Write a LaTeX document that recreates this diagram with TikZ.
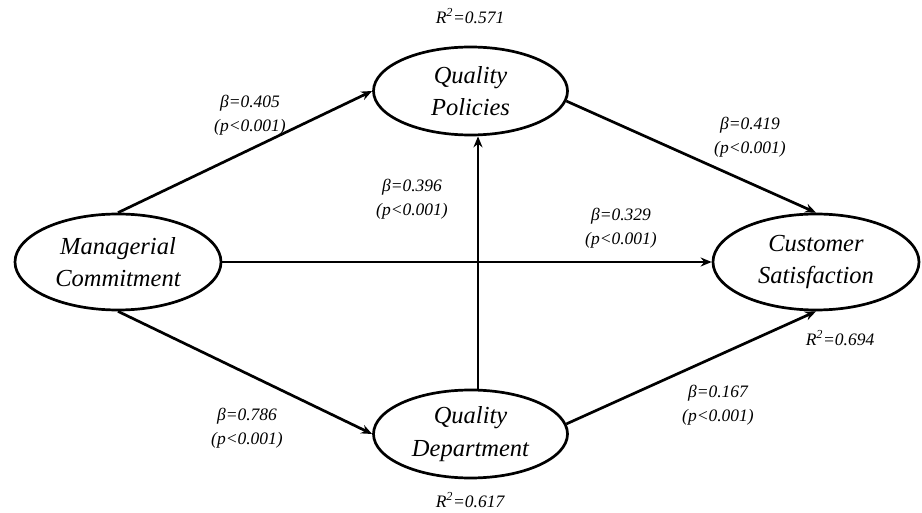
\documentclass[tikz,border=0pt]{standalone}
\usepackage{fontspec}
\setmainfont{Liberation Serif}
\usetikzlibrary{shapes.geometric,arrows.meta}
\begin{document}
\begin{tikzpicture}[x=1pt,y=-1pt,
  latent/.style={draw, line width=2.7pt, ellipse, minimum width=194pt, minimum height=88pt, inner sep=0pt, align=center,
    font=\fontsize{24.5}{32.5}\selectfont\itshape},
  stat/.style={align=center, inner sep=0pt, font=\fontsize{17.5}{23.5}\selectfont\itshape},
  arr/.style={line width=2.7pt, -{Stealth[length=11pt,width=9pt]}}]
\useasboundingbox (0,0) rectangle (922,513);
\node[latent] (QP) at (470.5,91) {Quality\\Policies};
\node[latent, minimum width=206pt, minimum height=96pt] (MC) at (118,262) {Managerial\\Commitment};
\node[latent, minimum width=206pt, minimum height=96pt] (CS) at (816,262) {Customer\\Satisfaction};
\node[latent] (QD) at (470.5,434) {Quality\\Department};

\draw[arr] (MC.north) -- (QP.west);
\draw[arr] (QP.-6) -- (CS.north);
\draw[arr] (MC.east) -- (CS.west);
\draw[arr] (MC.south) -- (QD.west);
\draw[arr] (QD.6) -- (CS.south);
\draw[arr, transform canvas={xshift=7.5pt}] (QD.north) -- (QP.south);

\node[stat] (s1) at (250,115) {β=0.405\\(p<0.001)};
\node[stat] (s2) at (750,137) {β=0.419\\(p<0.001)};
\node[stat] (s3) at (412,199) {β=0.396\\(p<0.001)};
\node[stat] (s4) at (621,228) {β=0.329\\(p<0.001)};
\node[stat] (s5) at (247,428) {β=0.786\\(p<0.001)};
\node[stat] (s6) at (718,405) {β=0.167\\(p<0.001)};
\node[stat] (r1) at (470,16) {R\textsuperscript{2}=0.571};
\node[stat] (r2) at (840,338) {R\textsuperscript{2}=0.694};
\node[stat] (r3) at (470,500) {R\textsuperscript{2}=0.617};
\end{tikzpicture}
\end{document}
